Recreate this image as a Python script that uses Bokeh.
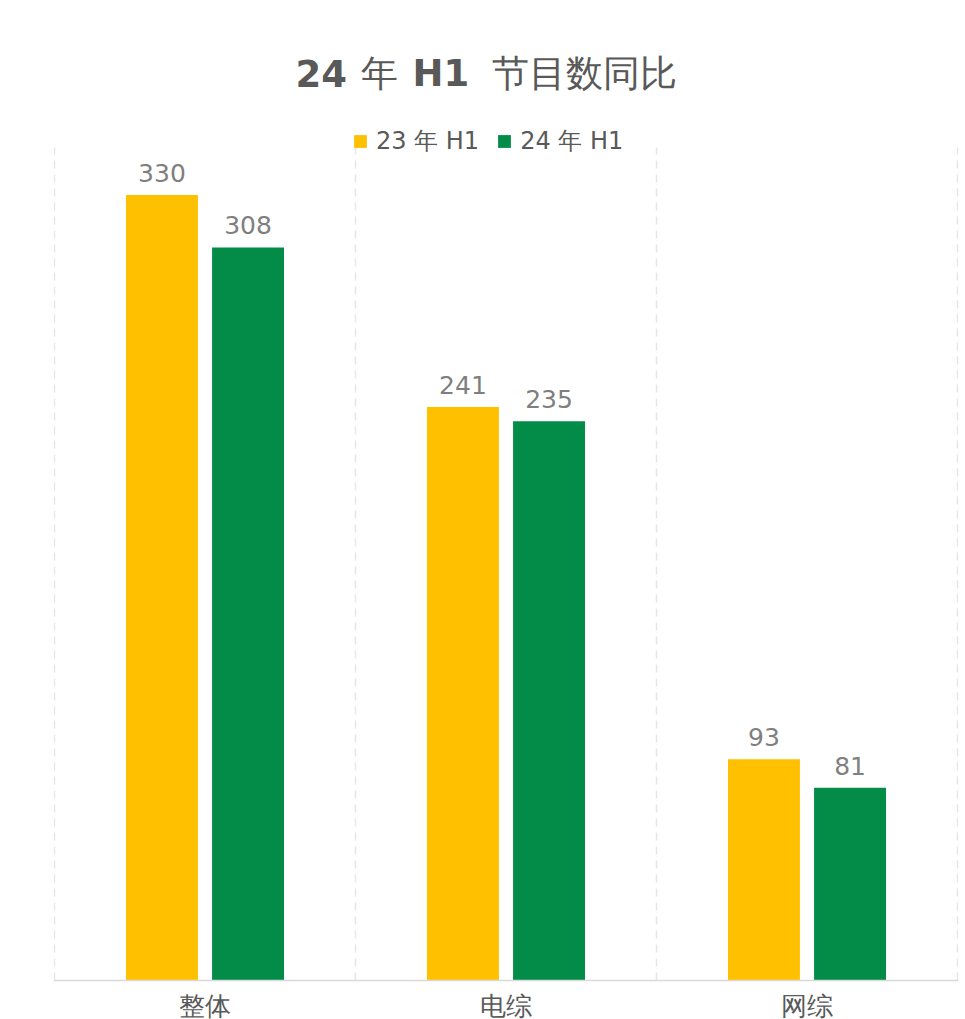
from bokeh.plotting import figure
from bokeh.models import ColumnDataSource, Legend, LegendItem, Label, Span
from bokeh.core.properties import value
from bokeh.embed import file_html
from bokeh.resources import INLINE

categories = ["整体", "电综", "网综"]
series_names = ["23 年 H1", "24 年 H1"]
values_23 = [330, 241, 93]
values_24 = [308, 235, 81]
colors = ["#FFC000", "#038C47"]
title_parts = ["24", "年", "H1", "节目数同比"]
title_bold = [True, False, True, False]

n = len(categories)
idx = list(range(n))
centers = [i + 0.5 for i in idx]
offset = 0.143
bar_w = 0.239
grid_top = 350

W, H = 965, 1019
base_px, top_px = 980, 147          # page y of value 0 and of grid_top
scale = (base_px - top_px) / grid_top
y_min = -(H - base_px) / scale
y_max = grid_top + top_px / scale
pad = 1 / 301

p = figure(width=W, height=H, output_backend="svg", toolbar_location=None,
           x_range=(-pad, n + pad), y_range=(y_min, y_max),
           min_border_left=53, min_border_right=7, min_border_bottom=0,
           min_border_top=0)
p.xaxis.visible = False
p.yaxis.visible = False
p.xgrid.grid_line_color = None
p.ygrid.grid_line_color = None

# vertical dashed separators between categories
p.segment(x0=list(range(n + 1)), x1=list(range(n + 1)),
          y0=0, y1=grid_top, line_color="#E6E6E6", line_width=1.5, line_dash="8 6")

# baseline axis line
p.add_layout(Span(location=0, dimension="width", line_color="#D9D9D9", line_width=1.5))

src23 = ColumnDataSource(dict(x=[c - offset for c in centers], top=values_23,
                              lab=[str(v) for v in values_23]))
src24 = ColumnDataSource(dict(x=[c + offset for c in centers], top=values_24,
                              lab=[str(v) for v in values_24]))

r1 = p.vbar(x="x", top="top", width=bar_w, source=src23, color=colors[0], line_color=None)
r2 = p.vbar(x="x", top="top", width=bar_w, source=src24, color=colors[1], line_color=None)

for s in (src23, src24):
    p.text(x="x", y="top", text="lab", source=s, text_align="center",
           text_baseline="middle", y_offset=-22, text_font_size="25px",
           text_color="#7F7F7F", text_font=value("DejaVu Sans"))

# category labels under the baseline
cat_src = ColumnDataSource(dict(x=centers, y=[0] * n, lab=categories))
p.text(x="x", y="y", text="lab", source=cat_src, text_align="center",
       text_baseline="middle", y_offset=25, text_font_size="26px",
       text_color="#595959", text_font=value("DejaVu Sans"))

# title pieces (bold latin, regular CJK)
title_x = [242, 307, 359, 531]
title_align = ["left", "left", "left", "center"]
for t, b, tx, al in zip(title_parts, title_bold, title_x, title_align):
    p.add_layout(Label(x=tx, y=H - 73, x_units="screen", y_units="screen", text=t,
                       text_font="DejaVu Sans", text_font_size="37px",
                       text_font_style="bold" if b else "normal",
                       text_color="#595959", text_align=al, text_baseline="middle"))

legend = Legend(items=[LegendItem(label=series_names[0], renderers=[r1]),
                       LegendItem(label=series_names[1], renderers=[r2])],
                orientation="horizontal", location=(299, H - 157))
legend.label_text_font_size = "24px"
legend.label_text_color = "#595959"
legend.label_text_font = "DejaVu Sans"
legend.glyph_width = 16
legend.glyph_height = 16
legend.label_standoff = 8
legend.spacing = 17
legend.border_line_color = None
legend.background_fill_alpha = 0
legend.padding = 0
legend.margin = 0
p.add_layout(legend)

p.outline_line_color = None
p.background_fill_color = "white"
p.border_fill_color = "white"

open("out.html", "w").write(file_html(p, INLINE))
